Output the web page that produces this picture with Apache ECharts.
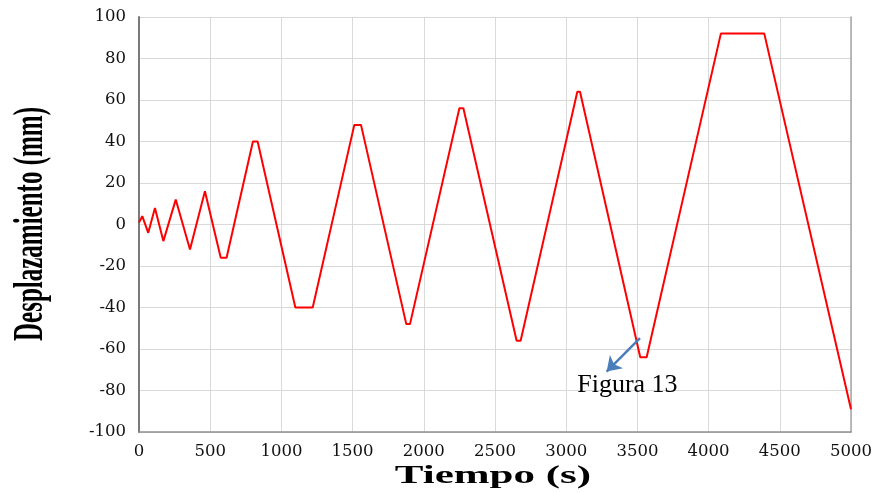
<!DOCTYPE html>
<html>
<head>
<meta charset="utf-8">
<script src="https://cdn.jsdelivr.net/npm/echarts@6/dist/echarts.min.js"></script>
<style>html,body{margin:0;padding:0;background:#fff;}#c{width:882px;height:493px;}</style>
</head>
<body>
<div id="c"></div>
<script>
// Time (s)
var times = [0, 23, 65, 112, 171, 258, 358, 463, 574, 615, 800, 833, 1098, 1220, 1512, 1559, 1877, 1903, 2250, 2278, 2652, 2680, 3078, 3097, 3520, 3565, 4086, 4391, 5000];
// Displacement (mm)
var disp = [1, 4, -4, 8, -8, 12, -12, 16, -16, -16, 40, 40, -40, -40, 48, 48, -48, -48, 56, 56, -56, -56, 64, 64, -64, -64, 92, 92, -89];
// Annotation
var arrowFrom = [3518, -54.8];
var arrowTo = [3284, -70.9];
var noteText = 'Figura 13';
var notePos = [3430, -77.6];
var xTitle = 'Tiempo (s)';
var yTitle = 'Desplazamiento (mm)';

var pts = times.map(function (t, i) { return [t, disp[i]]; });

var chart = echarts.init(document.getElementById('c'), null, {renderer: 'canvas'});
var tickFont = {fontFamily: 'DejaVu Serif', fontSize: 16.5, color: '#111',
  formatter: function (v) { return String(v); }};

chart.setOption({
  animation: false,
  backgroundColor: '#fff',
  grid: {left: 139, right: 31, top: 17, bottom: 61, containLabel: false},
  xAxis: {
    type: 'value', min: 0, max: 5000, interval: 500,
    axisLine: {show: true, onZero: false, lineStyle: {color: '#8f8f8f', width: 1.5}},
    axisTick: {show: false},
    axisLabel: Object.assign({margin: 11}, tickFont),
    splitLine: {show: true, lineStyle: {color: '#d9d9d9', width: 1}}
  },
  yAxis: [{
    type: 'value', min: -100, max: 100, interval: 20,
    axisLine: {show: true, onZero: false, lineStyle: {color: '#7a7a7a', width: 2}},
    axisTick: {show: false},
    axisLabel: Object.assign({margin: 13}, tickFont),
    splitLine: {show: true, lineStyle: {color: '#d9d9d9', width: 1}}
  }, {
    type: 'value', min: -100, max: 100, interval: 20, position: 'right',
    axisLine: {show: true, onZero: false, lineStyle: {color: '#a6a6a6', width: 1.5}},
    axisTick: {show: false}, axisLabel: {show: false}, splitLine: {show: false}
  }],
  series: [{
    type: 'line',
    data: pts,
    showSymbol: false,
    symbol: 'none',
    lineStyle: {color: '#ff0000', width: 2},
    z: 3,
    markLine: {
      silent: true,
      symbol: ['none', 'arrow'],
      symbolSize: 14,
      label: {show: false},
      lineStyle: {color: '#4a7ebb', width: 2.5, type: 'solid'},
      data: [[{coord: arrowFrom}, {coord: arrowTo}]]
    },
    markPoint: {
      silent: true,
      symbol: 'circle',
      symbolSize: 0,
      label: {show: true, position: 'inside', formatter: noteText,
        fontFamily: 'Liberation Serif', fontSize: 26, color: '#000'},
      data: [{coord: notePos}]
    }
  }],
  graphic: [{
    type: 'text',
    x: 31, y: 224,
    rotation: Math.PI / 2,
    scaleY: 1.65,
    style: {text: yTitle, fontFamily: 'Liberation Serif', fontWeight: 'bold', fontSize: 25,
      fill: '#000', textAlign: 'center', textVerticalAlign: 'middle'}
  }, {
    type: 'text',
    x: 493, y: 477,
    scaleX: 1.72,
    style: {text: xTitle, fontFamily: 'Liberation Serif', fontWeight: 'bold', fontSize: 25,
      fill: '#000', textAlign: 'center', textVerticalAlign: 'middle'}
  }]
});
</script>
</body>
</html>
